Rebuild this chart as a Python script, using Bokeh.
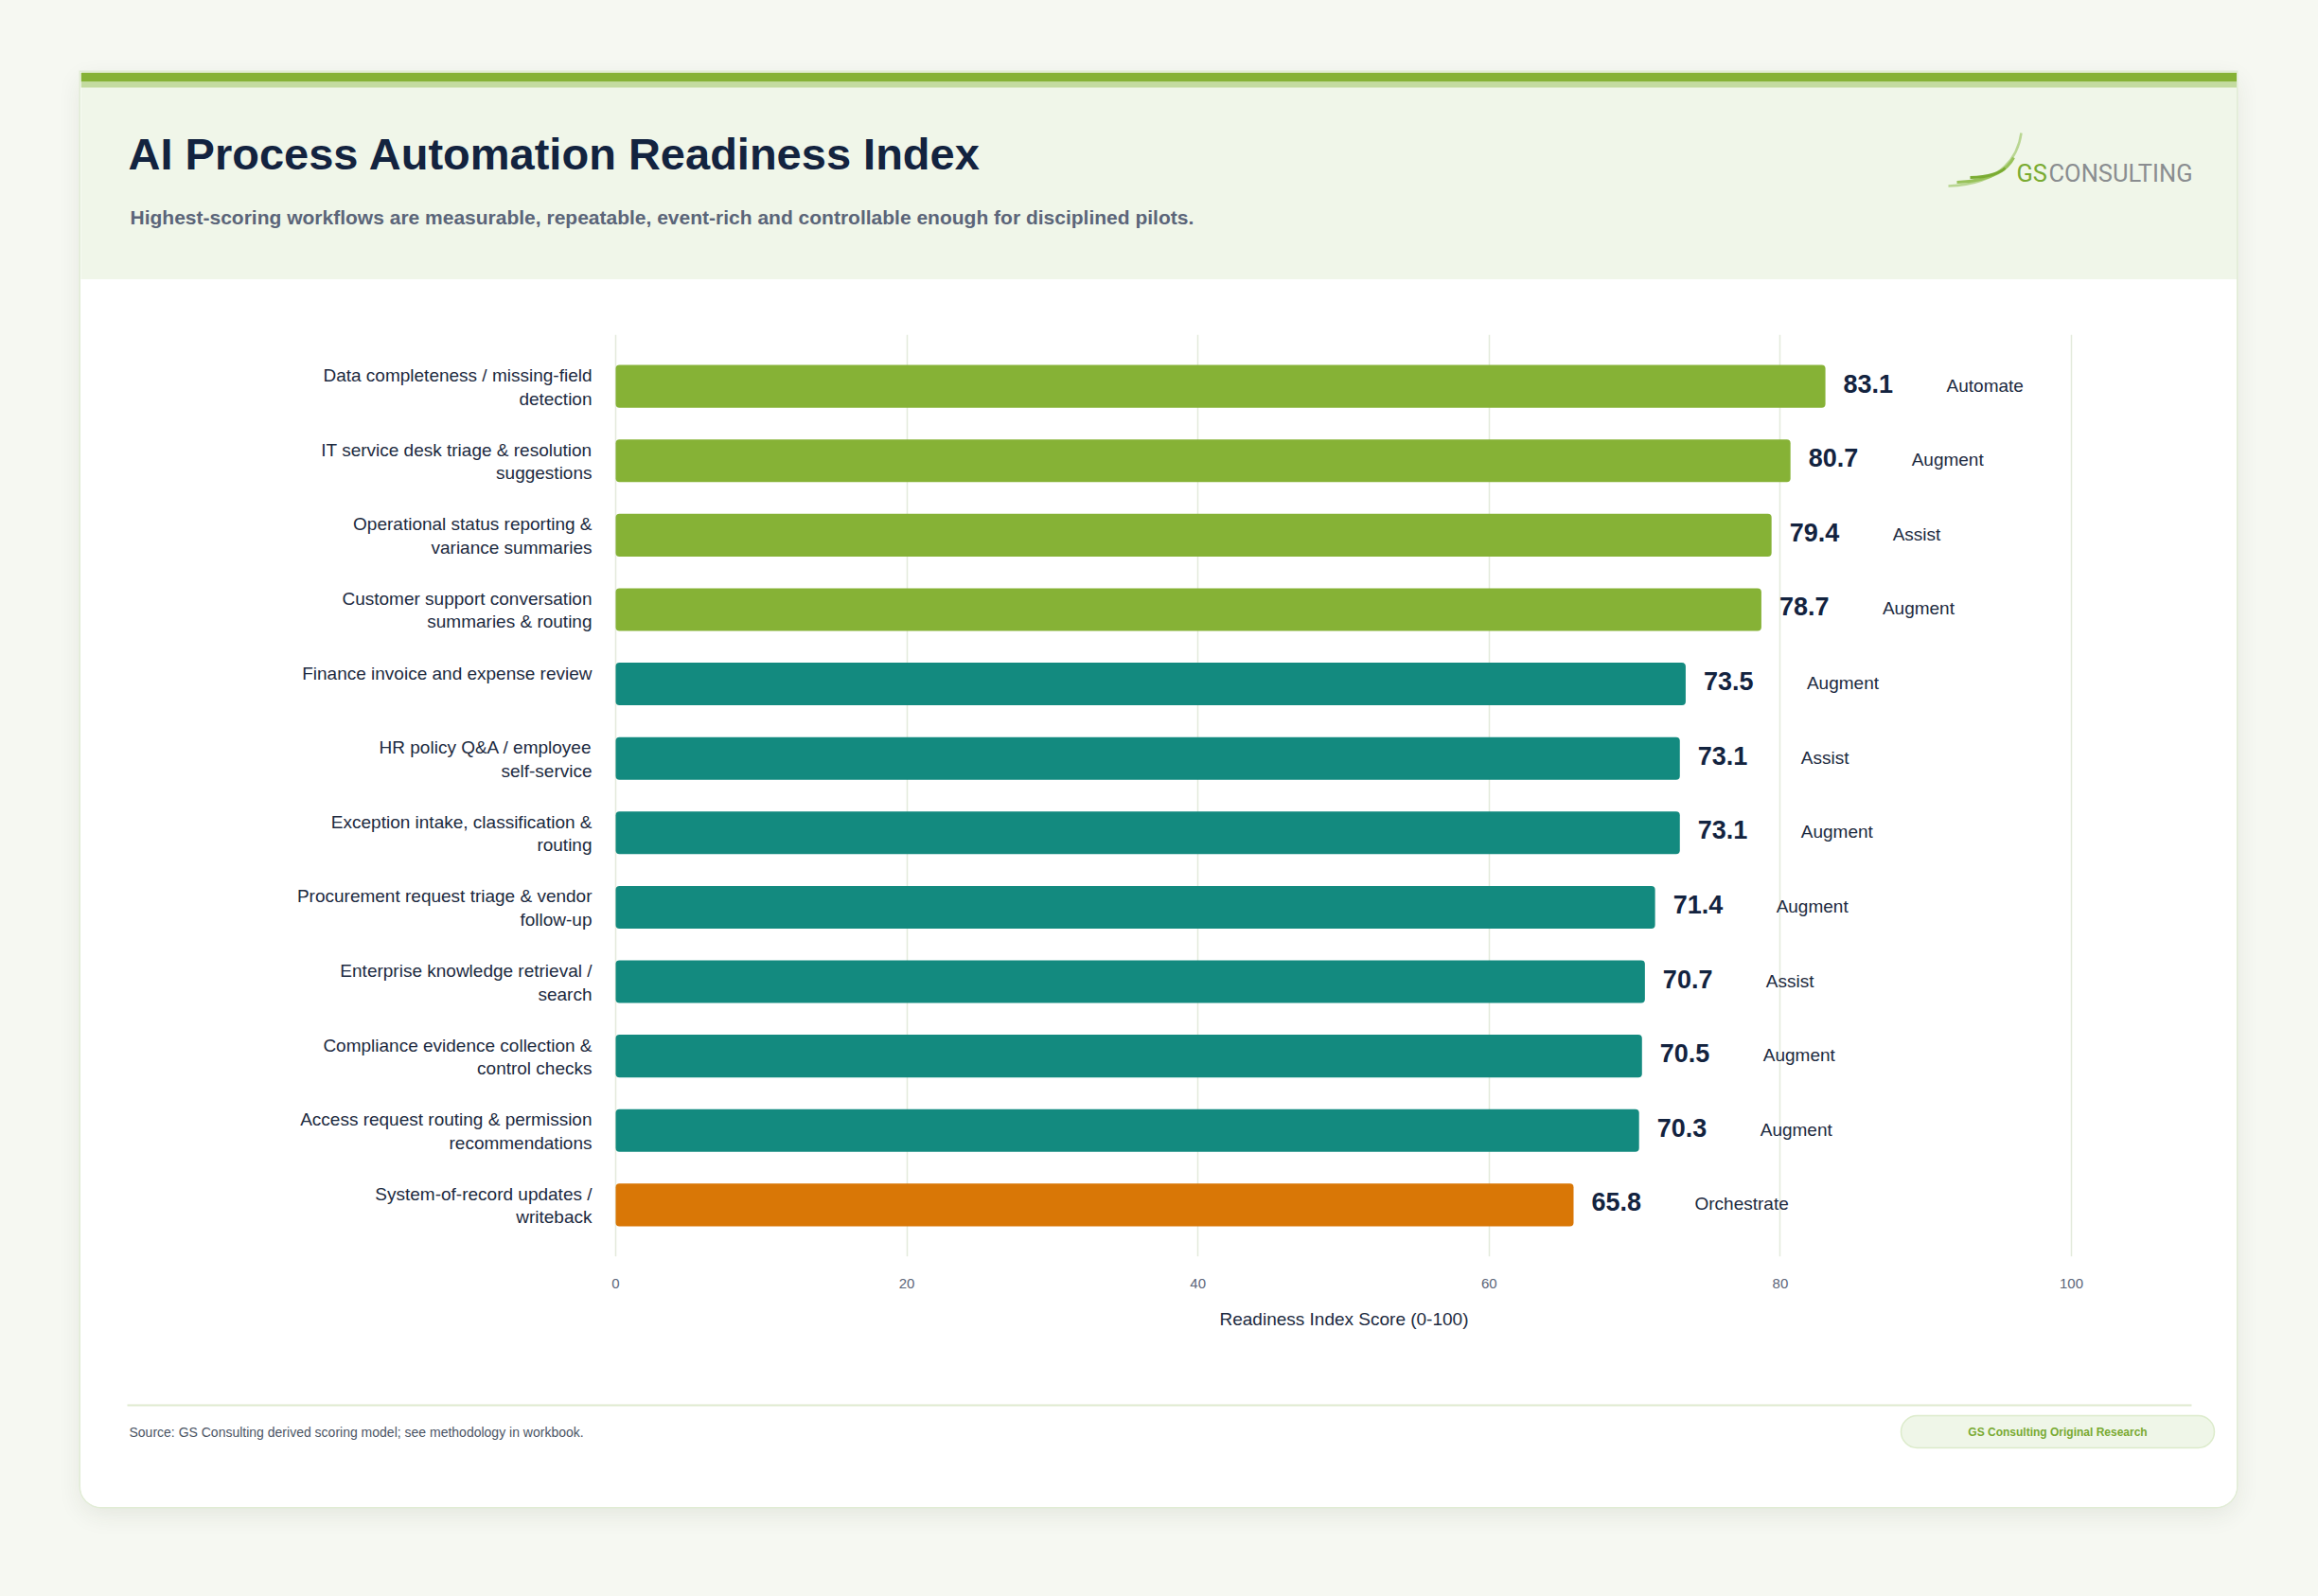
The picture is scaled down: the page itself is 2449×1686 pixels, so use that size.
from bokeh.plotting import figure
from bokeh.layouts import column
from bokeh.models import ColumnDataSource, FactorRange, Range1d, FixedTicker, Title
from bokeh.core.properties import value
from bokeh.embed import file_html
from bokeh.resources import INLINE

# ---- data -------------------------------------------------------------
workflows = [
    "Data completeness / missing-field detection",
    "IT service desk triage & resolution suggestions",
    "Operational status reporting & variance summaries",
    "Customer support conversation summaries & routing",
    "Finance invoice and expense review",
    "HR policy Q&A / employee self-service",
    "Exception intake, classification & routing",
    "Procurement request triage & vendor follow-up",
    "Enterprise knowledge retrieval / search",
    "Compliance evidence collection & control checks",
    "Access request routing & permission recommendations",
    "System-of-record updates / writeback",
]
wrapped_labels = [
    "Data completeness / missing-field\ndetection",
    "IT service desk triage & resolution\nsuggestions",
    "Operational status reporting &\nvariance summaries",
    "Customer support conversation\nsummaries & routing",
    "Finance invoice and expense review",
    "HR policy Q&A / employee\nself-service",
    "Exception intake, classification &\nrouting",
    "Procurement request triage & vendor\nfollow-up",
    "Enterprise knowledge retrieval /\nsearch",
    "Compliance evidence collection &\ncontrol checks",
    "Access request routing & permission\nrecommendations",
    "System-of-record updates /\nwriteback",
]
scores = [83.1, 80.7, 79.4, 78.7, 73.5, 73.1, 73.1, 71.4, 70.7, 70.5, 70.3, 65.8]
modes = ["Automate", "Augment", "Assist", "Augment", "Augment", "Assist",
         "Augment", "Augment", "Assist", "Augment", "Augment", "Orchestrate"]
x_ticks = [0, 20, 40, 60, 80, 100]

TITLE = "AI Process Automation Readiness Index"
SUBTITLE = ("Highest-scoring workflows are measurable, repeatable, event-rich "
            "and controllable enough for disciplined pilots.")
X_LABEL = "Readiness Index Score (0-100)"
SOURCE = "Source: GS Consulting derived scoring model; see methodology in workbook."
BADGE = "GS Consulting Original Research"

# ---- style ------------------------------------------------------------
FONT = "Liberation Sans"
NAVY = "#13233f"
INK = "#1c2a40"
SLATE = "#5b6579"
GREEN = "#86b236"
GREEN_LIGHT = "#c4dba0"
HEADER_BG = "#f0f6e9"
TEAL = "#138a7f"
ORANGE = "#d97706"
GRID = "#e3eadb"
PAGE_BG = "#f6f8f2"

CARD_W = 2278
HEADER_H = 219
CHART_H = 1175
FOOTER_H = 122
# horizontal placement of the score axis inside the card (pixels)
AXIS_LEFT_PX = 565
AXIS_RIGHT_PX = 2103
X_MIN, X_MAX = 0, 100


def band_color(s):
    if s >= 75:
        return GREEN
    if s >= 70:
        return TEAL
    return ORANGE


def bare(fig):
    fig.grid.visible = False
    fig.outline_line_color = None
    fig.toolbar.logo = None
    return fig


# ---- header -----------------------------------------------------------
header = bare(figure(width=CARD_W, height=HEADER_H, x_range=Range1d(0, CARD_W),
                     y_range=Range1d(HEADER_H, 0), output_backend="svg",
                     toolbar_location=None, x_axis_location=None, y_axis_location=None,
                     min_border=0, background_fill_color=HEADER_BG,
                     border_fill_color=HEADER_BG))
header.quad(left=[0], right=[CARD_W], top=[0], bottom=[10], fill_color=GREEN, line_color=None)
header.quad(left=[0], right=[CARD_W], top=[10], bottom=[16], fill_color=GREEN_LIGHT, line_color=None)
header.text(x=[50], y=[86], text=[TITLE], text_font=value(FONT), text_font_size="47px",
            text_font_style="bold", text_color=NAVY, text_baseline="alphabetic")
header.text(x=[52], y=[153], text=[SUBTITLE], text_font=value(FONT), text_font_size="21px",
            text_font_style="bold", text_color=SLATE, text_baseline="alphabetic")

# logo swooshes and wordmark
header.bezier(x0=[1973], y0=[120], x1=[2050], y1=[64], cx0=[2032], cy0=[118], cx1=[2047], cy1=[86],
              line_color="#b9d692", line_width=2.5)
header.bezier(x0=[1982], y0=[116], x1=[2042], y1=[90], cx0=[2022], cy0=[115], cx1=[2037], cy1=[100],
              line_color="#98c25a", line_width=3)
header.bezier(x0=[1996], y0=[111], x1=[2033], y1=[101], cx0=[2017], cy0=[111], cx1=[2029], cy1=[105],
              line_color="#7aab32", line_width=3)
header.text(x=[2045], y=[106], text=["GS"], text_font=value("Roboto"), text_font_size="25.5px",
            text_color="#7aab32", text_baseline="alphabetic")
header.text(x=[2079], y=[106], text=["CONSULTING"], text_font=value("Roboto"), text_font_size="25.5px",
            text_color="#8a8d90", text_baseline="alphabetic")

# ---- chart ------------------------------------------------------------
src = ColumnDataSource(dict(
    workflow=workflows,
    score=scores,
    score_text=[f"{s:.1f}" for s in scores],
    mode=modes,
    color=[band_color(s) for s in scores],
))

# one row per printed line of the category labels
line_rows = dict(workflow=[], line=[], dy=[])
LINE_DY = [-11.5, 13]
for wf, lab in zip(workflows, wrapped_labels):
    for i, part in enumerate(lab.split("\n")):
        line_rows["workflow"].append(wf)
        line_rows["line"].append(part)
        line_rows["dy"].append(LINE_DY[i])
lines_src = ColumnDataSource(line_rows)

px_per_unit = (AXIS_RIGHT_PX - AXIS_LEFT_PX) / (X_MAX - X_MIN)
x_range = Range1d(X_MIN - AXIS_LEFT_PX / px_per_unit,
                  X_MAX + (CARD_W - AXIS_RIGHT_PX) / px_per_unit)

p = figure(width=CARD_W, height=CHART_H,
           y_range=FactorRange(factors=list(reversed(workflows)), range_padding=0.0325),
           x_range=x_range, output_backend="svg", toolbar_location=None,
           y_axis_location=None,
           min_border_left=0, min_border_right=0, min_border_top=58, min_border_bottom=143,
           background_fill_color="white", border_fill_color="white")
p.outline_line_color = None
p.toolbar.logo = None

p.hbar(y="workflow", left=0, right="score", height=0.573, fill_color="color",
       line_color=None, border_radius=4, source=src)
p.text(x="score", y="workflow", text="score_text", source=src, x_offset=19, y_offset=-3,
       text_align="left", text_baseline="alphabetic", text_font=value(FONT),
       text_font_size="27px", text_font_style="bold", text_color=NAVY)
p.text(x="score", y="workflow", text="mode", source=src, x_offset=128, y_offset=-1,
       text_align="left", text_baseline="alphabetic", text_font=value(FONT),
       text_font_size="19px", text_color=INK)
# category labels, right-aligned just left of the zero line
p.text(x=0, y="workflow", text="line", source=lines_src, x_offset=-25, y_offset="dy",
       text_align="right", text_baseline="alphabetic", text_font=value(FONT),
       text_font_size="19px", text_color=INK)

p.xgrid.grid_line_color = GRID
p.xgrid.grid_line_width = 1.5
p.ygrid.grid_line_color = None

xa = p.xaxis[0]
xa.ticker = FixedTicker(ticks=x_ticks)
xa.bounds = (X_MIN, X_MAX)
xa.axis_line_color = None
xa.major_tick_line_color = None
xa.minor_tick_line_color = None
xa.major_tick_out = 0
xa.major_tick_in = 0
xa.major_label_standoff = 23
xa.major_label_text_font = FONT
xa.major_label_text_font_size = "15px"
xa.major_label_text_color = SLATE

# axis title, centred under the 0-100 span
x_title = Title(text=X_LABEL, align="left", vertical_align="top",
                offset=AXIS_LEFT_PX + (AXIS_RIGHT_PX - AXIS_LEFT_PX) / 2 - 131,
                standoff=38, text_font=FONT, text_font_size="19px",
                text_font_style="normal", text_color=INK)
p.add_layout(x_title, "below")

# ---- footer -----------------------------------------------------------
footer = bare(figure(width=CARD_W, height=FOOTER_H, x_range=Range1d(0, CARD_W),
                     y_range=Range1d(FOOTER_H, 0), output_backend="svg",
                     toolbar_location=None, x_axis_location=None, y_axis_location=None,
                     min_border=0, background_fill_color="white", border_fill_color="white"))
footer.segment(x0=[49], y0=[14], x1=[2230], y1=[14], line_color="#dfeacf", line_width=2)
footer.text(x=[51], y=[42], text=[SOURCE], text_font=value(FONT), text_font_size="14px",
            text_color="#4b5565", text_baseline="middle")
footer.quad(left=[1923], right=[2254], top=[25], bottom=[59], border_radius=17,
            fill_color="#eff6e8", line_color="#dcebcb", line_width=1.5)
footer.text(x=[2088.5], y=[42], text=[BADGE], text_font=value(FONT), text_font_size="12px",
            text_font_style="bold", text_color="#79aa32", text_align="center",
            text_baseline="middle")

# ---- page -------------------------------------------------------------
card = column(header, p, footer, spacing=0, margin=(76, 0, 0, 85),
              styles={"border-radius": "0 0 22px 22px", "overflow": "hidden",
                      "background-color": "white",
                      "box-shadow": "0 0 0 1.5px #e1ecd5, 0 8px 26px rgba(40,50,30,0.09)"})
page = column(card, width=2449, height=1686, styles={"background-color": PAGE_BG})

open("out.html", "w").write(file_html(page, INLINE))
